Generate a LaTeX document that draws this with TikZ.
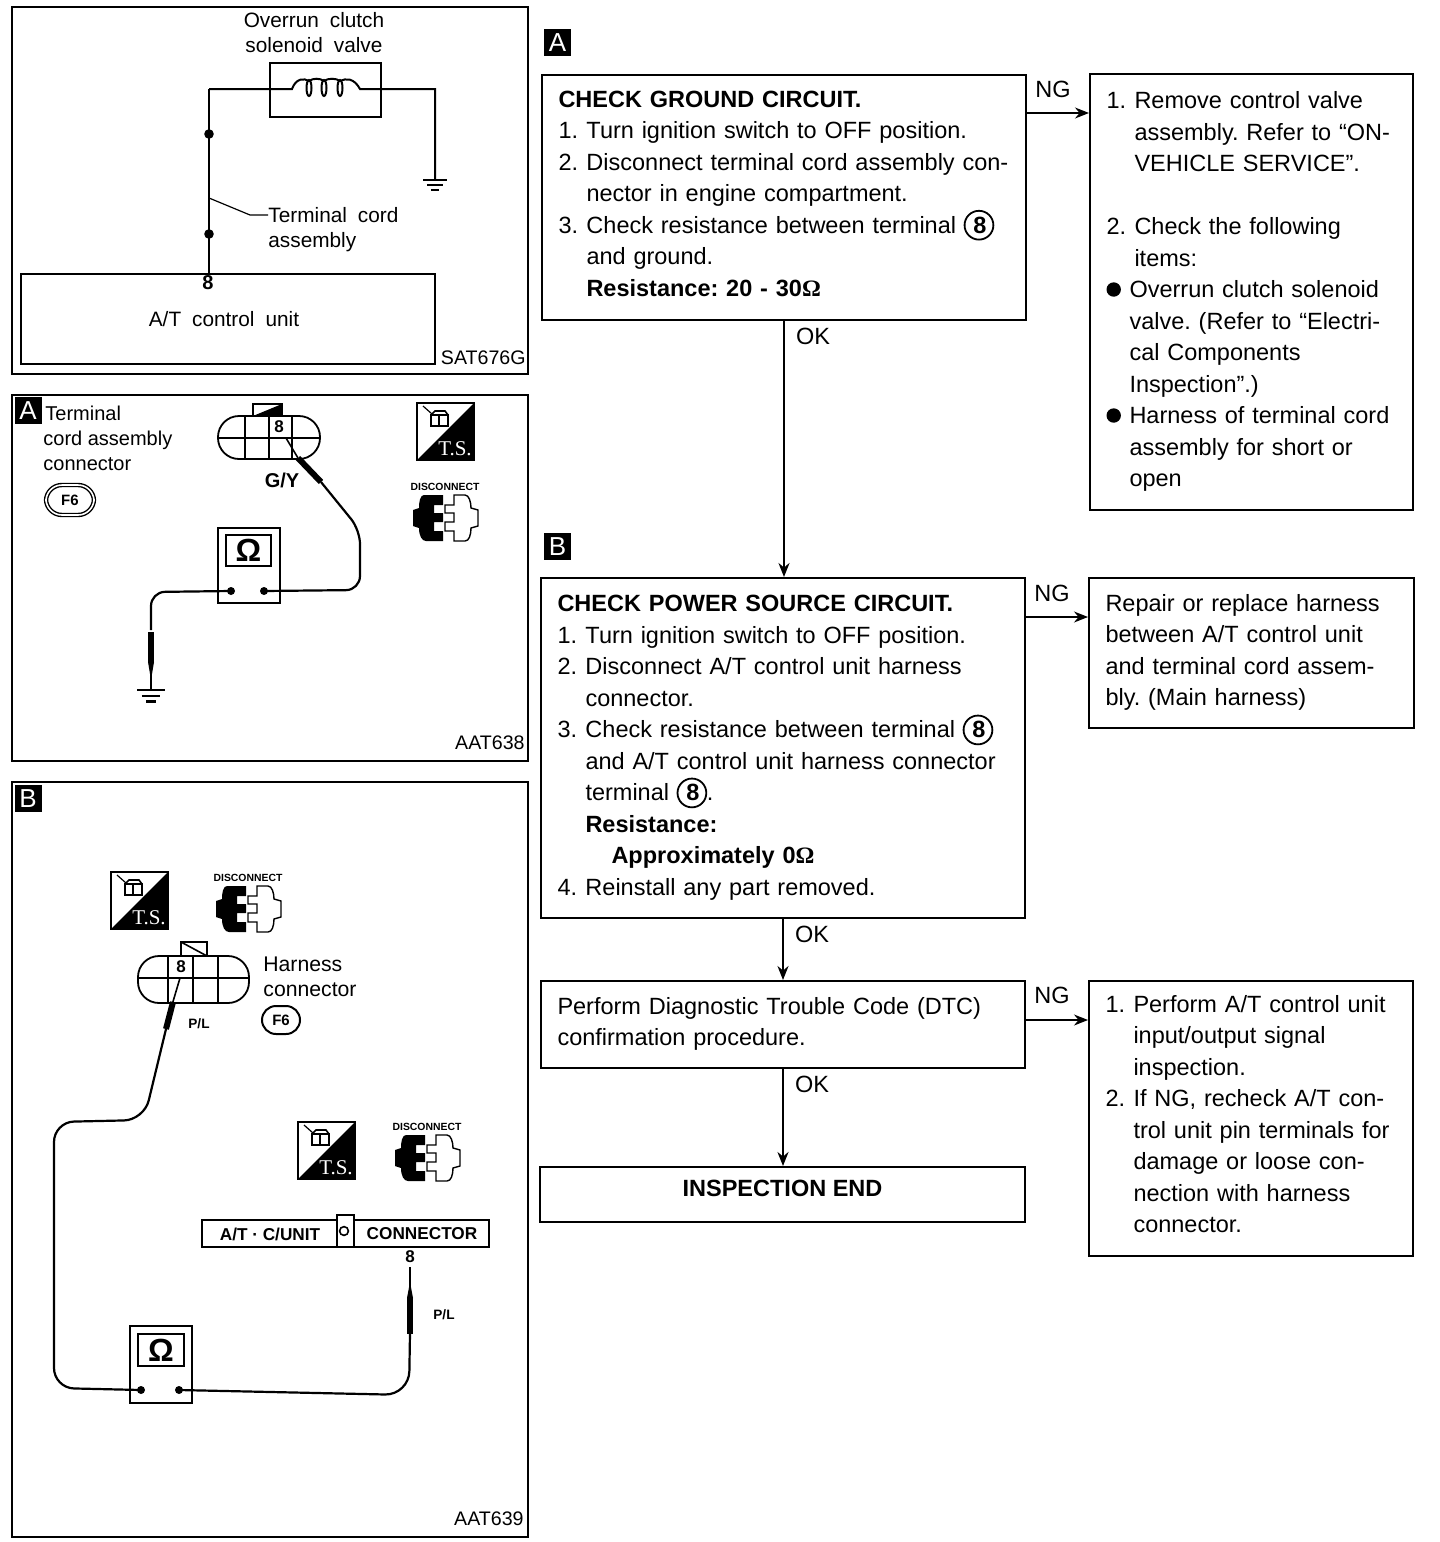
\documentclass[tikz,border=0pt]{standalone}
\usepackage{fontspec}
\setmainfont{Liberation Sans}
\newfontfamily\widefont[WordSpace=1.9]{Liberation Sans}
\newfontfamily\serifmark{Liberation Serif}
\usetikzlibrary{arrows.meta,positioning}
\newcommand{\flowfont}{\fontsize{11.75}{15.75}\selectfont\frenchspacing}
\newcommand{\labelfont}{\fontsize{10}{12.5}\selectfont}
\newcommand{\stepno}[1]{\makebox[14pt][l]{#1}}
\newcommand{\stepgap}{\hspace*{14pt}}
\newcommand{\dotno}{\makebox[11.5pt][l]{\raisebox{0.4pt}{\tikz\fill (0,0) circle (3.6pt);}}}
\newcommand{\ringno}{\makebox[15pt]{\tikz[baseline=-4pt]\draw[line width=0.9pt] (0,0) circle (7.2pt);\hspace*{-14.4pt}\makebox[14.4pt]{\textbf{8}}}}
\newcommand{\ohm}{\textbf{\serifmark Ω}}
\newcommand{\lowstrut}[1]{\rule[-#1]{0pt}{#1}}
\begin{document}
\begin{tikzpicture}[x=0.5pt,y=-0.5pt,>={Stealth[length=7pt,width=5.5pt]},
  every node/.style={font=\labelfont},
  panelbox/.style={draw,line width=1pt,anchor=north west,inner sep=0pt},
  flowbox/.style={draw,line width=1pt,anchor=north west,align=left,inner xsep=8.25pt,font=\flowfont},
  flowlink/.style={->,line width=0.6pt},
  tagbox/.style={fill=black,text=white,minimum size=13.5pt,inner sep=0pt,font=\fontsize{13}{13}\selectfont},
  wire/.style={line width=1.1pt,rounded corners=7pt},
  probe/.style={line width=3pt},
  tsicon/.pic={
    \draw[line width=0.8pt] (0,0) rectangle (57,57);
    \fill (57,0) -- (57,57) -- (0,57) -- cycle;
    \node[text=white,font=\serifmark\fontsize{10.5}{10.5}\selectfont] (mark) at (38,46) {T.S.};
    \draw[line width=0.6pt] (6,3) -- (15,11);
    \draw[line width=0.8pt] (14,12) rectangle (22,23) (22,12) rectangle (31,23);
    \draw[line width=0.8pt] (14,12) -- (18,8) -- (28,8) -- (31,12);
  },
  discicon/.pic={
    \node[font=\fontsize{5.2}{6}\selectfont\bfseries] (word) at (1,-31) {DISCONNECT};
    \fill (-1,-23) -- (-20,-23) .. controls (-24,-23) and (-25,-16) .. (-25,-10) -- (-31,-8) -- (-31,8) -- (-25,10) .. controls (-25,18) and (-22,23) .. (-18,23) -- (-1,23) -- (-1,13) -- (-10,13) -- (-10,4) -- (-1,4) -- (-1,-5) -- (-10,-5) -- (-10,-13) -- (-1,-13) -- cycle;
    \draw[line width=0.7pt] (10,-23) -- (21,-23) .. controls (25,-23) and (27,-16) .. (27,-10) -- (34,-8) -- (34,8) -- (27,10) .. controls (27,17) and (25,23) .. (21,23) -- (10,23) -- (10,13) -- (1,13) -- (1,4) -- (10,4) -- (10,-5) -- (1,-5) -- (1,-13) -- (10,-13) -- cycle;
  },
  groundmark/.pic={
    \draw[line width=0.9pt] (-12,0) -- (12,0) (-8,5) -- (8,5);
    \draw[line width=1.2pt] (-4,10) -- (4,10);
  }]
  \useasboundingbox (0,0) rectangle (1440,1542);

  \node[panelbox,minimum width=258pt,minimum height=183.5pt] (panelone) at (11,6) {};
  \node[panelbox,minimum width=207pt,minimum height=45pt,font=\widefont\fontsize{10.4}{12.5}\selectfont] (atunit) at (20,273) {\hspace*{-4pt}A/T control unit};
  \node[panelbox,minimum width=55.5pt,minimum height=27pt] (coilbox) at (269,62) {};
  \node[font=\widefont\fontsize{10.4}{12.5}\selectfont,align=center] (coilname) at (314,33) {Overrun clutch\\solenoid valve};
  \node[font=\widefont\fontsize{10.4}{12.5}\selectfont,align=left,anchor=north west,inner sep=0pt] (cordname) at (268,207) {Terminal cord\\assembly};
  \node (pineight) at (208,283) {\textbf{8}};
  \node[anchor=base east,inner sep=0pt,font=\fontsize{9.8}{12}\selectfont] (codeone) at (526,364) {SAT676G};
  \draw[line width=1.4pt] (atunit.north -| 209,0) -- (209,89);
  \draw[line width=1pt] (209,89) -- (coilbox.west |- 0,89) -- (292,89)
    .. controls (296,78) and (304,78) .. (309,81) .. controls (313,78) and (320,78) .. (324,81)
    .. controls (328,78) and (336,78) .. (340,81) .. controls (346,78) and (354,78) .. (360,89)
    -- (coilbox.east |- 0,89) -- (435,89) -- (435,180);
  \draw[line width=1pt] (309,88) ellipse [x radius=2.5,y radius=8] (324,88) ellipse [x radius=2.5,y radius=8] (340,88) ellipse [x radius=2.5,y radius=8];
  \pic at (435,180) {groundmark};
  \fill (209,134) circle (2.4pt) (209,234) circle (2.4pt);
  \draw[line width=0.6pt] (209,198) -- (250,215) -- (cordname.west |- 0,215);

  \node[panelbox,minimum width=258pt,minimum height=183pt] (paneltwo) at (11,394) {};
  \node[tagbox] (tagleftA) at (28,410.5) {A};
  \node[align=left,anchor=north west,inner sep=0pt] (conname) at (43,406) {\hspace*{1pt}Terminal\\cord assembly\\connector};
  \node[draw,double,double distance=0.8pt,line width=0.7pt,rounded corners=8pt,minimum width=24pt,minimum height=15pt,inner sep=0pt,font=\fontsize{7.5}{8}\selectfont\bfseries] (fsixA) at (70,500) {F6};
  \draw[line width=0.9pt,rounded corners=10.5pt] (218,416) rectangle (320,459);
  \draw[line width=0.9pt] (218,438) -- (320,438) (245,416) -- (245,459) (269,416) -- (269,459) (292,416) -- (292,459);
  \draw[line width=0.9pt] (253,416) rectangle (282,404);
  \fill (253,416) -- (282,404) -- (282,416) -- cycle;
  \node[inner sep=0pt,font=\fontsize{8.5}{9}\selectfont\bfseries] (pinA) at (279,427) {8};
  \node (gyname) at (282,480) {\textbf{G/Y}};
  \node[panelbox,minimum width=31pt,minimum height=37.5pt] (meterA) at (217,527) {};
  \node[panelbox,minimum width=22.5pt,minimum height=15.5pt,font=\fontsize{16}{16}\selectfont\bfseries] (dialA) at (225,534) {Ω};
  \coordinate (lowA) at (231,591);
  \coordinate (highA) at (264,591);
  \fill (lowA) circle (2pt) (highA) circle (2pt);
  \draw[line width=0.8pt] (286,438) -- (298,458);
  \draw[probe] (298,458) -- (321,482);
  \draw[wire] (highA) -- (360,590) -- (360,530) -- (321,482);
  \draw[wire] (lowA) -- (151,592) -- (151,630);
  \draw[probe] (151,632) -- (151,662);
  \draw[line width=1pt] (151,662) -- (151,690);
  \fill (148,662) -- (154,662) -- (151,680) -- cycle;
  \pic[scale=1.15] at (151,690) {groundmark};
  \pic (tsA) at (417,403) {tsicon};
  \pic (discA) at (444,518) {discicon};
  \node[anchor=base east,inner sep=0pt,font=\fontsize{9.8}{12}\selectfont] (codetwo) at (525,749) {AAT638};

  \node[panelbox,minimum width=258pt,minimum height=377.5pt] (panelthree) at (11,781) {};
  \node[tagbox] (tagleftB) at (28,798.5) {B};
  \pic (tsB) at (111,872) {tsicon};
  \pic (discB) at (247,909) {discicon};
  \draw[line width=0.9pt,rounded corners=10.5pt] (138,956) rectangle (249,1003);
  \draw[line width=0.9pt] (138,978) -- (249,978) (168,956) -- (168,1003) (193,956) -- (193,1003) (218,956) -- (218,1003);
  \draw[line width=0.9pt] (181,956) rectangle (207,942);
  \draw[line width=0.8pt] (181,942) -- (207,956);
  \node[inner sep=0pt,font=\fontsize{8.5}{9}\selectfont\bfseries] (pinB) at (181,967) {8};
  \node[font=\fontsize{6.8}{7}\selectfont] (plnameB) at (199,1024) {\textbf{P/L}};
  \node[font=\fontsize{10.6}{12.5}\selectfont,align=left,anchor=north west,inner sep=0pt] (harname) at (263,957) {Harness\\connector};
  \node[draw,line width=1pt,rounded corners=7pt,minimum width=19pt,minimum height=14pt,inner sep=0pt,font=\fontsize{7.5}{8}\selectfont\bfseries] (fsixB) at (281,1020) {F6};
  \pic (tsC) at (298,1122) {tsicon};
  \pic (discC) at (426,1158) {discicon};
  \node[panelbox,minimum width=143.5pt,minimum height=13.5pt] (barleft) at (201,1219) {};
  \node[font=\fontsize{8.6}{9}\selectfont\bfseries] (atcunit) at (270,1234) {A/T · C/UNIT};
  \node[font=\fontsize{8.6}{9}\selectfont\bfseries] (connword) at (422,1234) {CONNECTOR};
  \node[panelbox,fill=white,minimum width=8.5pt,minimum height=16pt] (barmid) at (336,1214) {};
  \draw[line width=0.8pt] (344,1231) circle (2.2pt);
  \node[inner sep=0pt,font=\fontsize{8.5}{9}\selectfont\bfseries] (pinC) at (410,1257) {8};
  \node[font=\fontsize{6.8}{7}\selectfont] (plnameC) at (444,1315) {\textbf{P/L}};
  \node[panelbox,minimum width=31pt,minimum height=38.5pt] (meterB) at (129,1325) {};
  \node[panelbox,minimum width=23pt,minimum height=16pt,font=\fontsize{16}{16}\selectfont\bfseries] (dialB) at (137,1333) {Ω};
  \coordinate (lowB) at (141,1390);
  \coordinate (highB) at (179,1390);
  \fill (lowB) circle (2pt) (highB) circle (2pt);
  \draw[line width=0.8pt] (180,978) -- (172,1005);
  \draw[probe] (173,1002) -- (166,1029);
  \draw[wire,rounded corners=10pt] (lowB) -- (54,1388) -- (54,1122) -- (144,1120) -- (166,1029);
  \draw[wire,rounded corners=12pt] (highB) -- (409,1395) -- (410,1333);
  \draw[probe] (410,1298) -- (410,1334);
  \draw[line width=1pt] (410,1267) -- (410,1298);
  \fill (407,1298) -- (413,1298) -- (410,1282) -- cycle;
  \node[anchor=base east,inner sep=0pt,font=\fontsize{9.8}{12}\selectfont] (codethree) at (524,1525) {AAT639};

  \node[tagbox] (tagA) at (557.5,42.5) {A};
  \node[flowbox,text width=225.5pt,minimum height=122.5pt] (boxA) at (541,74) {
    \textbf{CHECK GROUND CIRCUIT.}\\
    \stepno{1.}Turn ignition switch to OFF position.\\
    \stepno{2.}Disconnect terminal cord assembly con-\\
    \stepgap nector in engine compartment.\\
    \stepno{3.}Check resistance between terminal \ringno\\
    \stepgap and ground.\\
    \stepgap\textbf{Resistance: 20 - 30\ohm}\lowstrut{4pt}};
  \node[flowbox,text width=145pt,minimum height=218pt] (fixA) at (1089,73) {
    \stepno{1.}Remove control valve\\
    \stepgap assembly. Refer to “ON-\\
    \stepgap VEHICLE SERVICE”.\\[15.75pt]
    \stepno{2.}Check the following\\
    \stepgap items:\\
    \dotno Overrun clutch solenoid\\
    \hspace*{11.5pt}valve. (Refer to “Electri-\\
    \hspace*{11.5pt}cal Components\\
    \hspace*{11.5pt}Inspection”.)\\
    \dotno Harness of terminal cord\\
    \hspace*{11.5pt}assembly for short or\\
    \hspace*{11.5pt}open\lowstrut{3pt}};
  \node[tagbox] (tagB) at (557.5,546.5) {B};
  \node[flowbox,text width=225.5pt,minimum height=170pt] (boxB) at (540,577) {
    \textbf{CHECK POWER SOURCE CIRCUIT.}\\
    \stepno{1.}Turn ignition switch to OFF position.\\
    \stepno{2.}Disconnect A/T control unit harness\\
    \stepgap connector.\\
    \stepno{3.}Check resistance between terminal \ringno\\
    \stepgap and A/T control unit harness connector\\
    \stepgap terminal \ringno.\\
    \stepgap\textbf{Resistance:}\\
    \stepgap\hspace*{13pt}\textbf{Approximately 0\ohm}\\
    \stepno{4.}Reinstall any part removed.\lowstrut{2.5pt}};
  \node[flowbox,text width=146pt,minimum height=75pt] (fixB) at (1088,577) {
    Repair or replace harness\\
    between A/T control unit\\
    and terminal cord assem-\\
    bly. (Main harness)\lowstrut{3pt}};
  \node[flowbox,text width=225.5pt,minimum height=43.5pt] (boxC) at (540,980) {
    Perform Diagnostic Trouble Code (DTC)\\
    confirmation procedure.\lowstrut{3pt}};
  \node[flowbox,text width=145.5pt,minimum height=137.5pt] (fixC) at (1088,980) {
    \stepno{1.}Perform A/T control unit\\
    \stepgap input/output signal\\
    \stepgap inspection.\\
    \stepno{2.}If NG, recheck A/T con-\\
    \stepgap trol unit pin terminals for\\
    \stepgap damage or loose con-\\
    \stepgap nection with harness\\
    \stepgap connector.\lowstrut{4.5pt}};
  \node[draw,line width=1pt,anchor=north west,minimum width=242.5pt,minimum height=27.5pt,font=\flowfont\bfseries] (boxD) at (539,1166) {INSPECTION END\lowstrut{6pt}};

  \draw[flowlink] (boxA.east |- 0,113) -- (fixA.west |- 0,113) node[pos=0.42,above=4pt,font=\flowfont] (ngA) {NG};
  \draw[flowlink] (boxB.east |- 0,617) -- (fixB.west |- 0,617) node[pos=0.42,above=4pt,font=\flowfont] (ngB) {NG};
  \draw[flowlink] (boxC.east |- 0,1020) -- (fixC.west |- 0,1020) node[pos=0.42,above=4.5pt,font=\flowfont] (ngC) {NG};
  \draw[flowlink,line width=1pt] (boxA.south -| 784,0) -- (boxB.north -| 784,0);
  \draw[flowlink,line width=1pt] (boxB.south -| 783,0) -- (boxC.north -| 783,0);
  \draw[flowlink,line width=1pt] (boxC.south -| 783,0) -- (boxD.north -| 783,0);
  \node[font=\flowfont] (okA) at (813,336) {OK};
  \node[font=\flowfont] (okB) at (812,934) {OK};
  \node[font=\flowfont] (okC) at (812,1084) {OK};
\end{tikzpicture}
\end{document}
